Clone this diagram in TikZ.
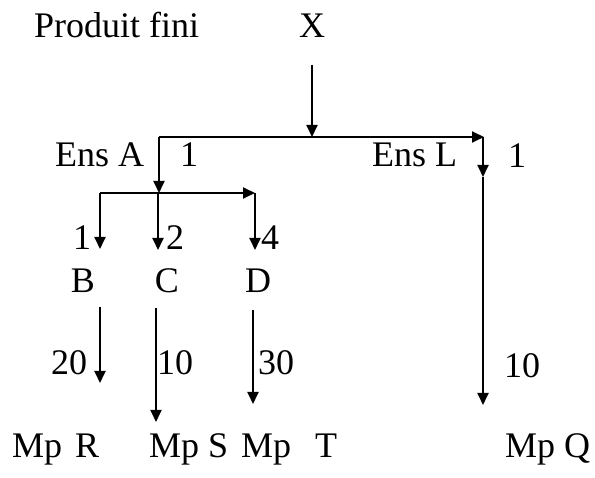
\documentclass[tikz,border=0pt]{standalone}
\usepackage{fontspec}
\setmainfont{Liberation Serif}
\usetikzlibrary{arrows.meta}
\begin{document}
\begin{tikzpicture}[x=1pt,y=-1pt,
  txt/.style={inner sep=0pt,font=\fontsize{36}{40}\selectfont},
  lbl/.style={txt,anchor=base west},
  num/.style={txt,anchor=base},
  flow/.style={line width=1.8pt,-{Triangle[length=12pt,width=11pt]}}]
\useasboundingbox (0,0) rectangle (595,478);
% texts
\node[lbl] (prod) at (34,38) {Produit fini};
\node[num] (X) at (312,38) {X};
\node[lbl] (ensA) at (55,167) {Ens A};
\node[num] (qA) at (189,167) {1};
\node[lbl] (ensL) at (372,167) {Ens L};
\node[num] (qL) at (517,168) {1};
\node[num] (qB) at (82,250) {1};
\node[num] (qC) at (175,250) {2};
\node[num] (qD) at (270,250) {4};
\node[num] (B) at (83,293) {B};
\node[num] (C) at (167,293) {C};
\node[num] (D) at (258,293) {D};
\node[num] (qR) at (69,375) {20};
\node[num] (qS) at (175,375) {10};
\node[num] (qT) at (276,375) {30};
\node[num] (qQ) at (522,378) {10};
\node[lbl] (mpR) at (12,458) {Mp\hspace{13pt}R};
\node[lbl] (mpS) at (149,458) {Mp S};
\node[lbl] (mpT) at (241,458) {Mp\hspace{24pt}T};
\node[lbl] (mpQ) at (505,457) {Mp Q};
% junction coordinates
\coordinate (xs) at (312,65);
\coordinate (xe) at (312,137);
\coordinate (jA) at (159,137);
\coordinate (jL) at (484,137);
\coordinate (lt) at (483,137);
\coordinate (lm) at (483,177);
\coordinate (le) at (483,405);
\coordinate (jA2) at (159,193);
\coordinate (hB) at (100,193);
\coordinate (hC) at (158,193);
\coordinate (hD) at (255,193);
\coordinate (eB) at (100,249);
\coordinate (eC) at (158,250);
\coordinate (eD) at (255,250);
\coordinate (bs) at (100,307);
\coordinate (be) at (100,383);
\coordinate (cs) at (156,308);
\coordinate (ce) at (156,422);
\coordinate (ds) at (253,310);
\coordinate (de) at (253,404);
% connectors
\draw[flow] (xs) -- (xe);
\draw[flow] (jA) -- (jL);
\draw[flow] (lt) -- (lm);
\draw[flow] (lm) -- (le);
\draw[flow] (jA) -- (jA2);
\draw[flow] (hB) -- (hD);
\draw[flow] (hB) -- (eB);
\draw[flow] (hC) -- (eC);
\draw[flow] (hD) -- (eD);
\draw[flow] (bs) -- (be);
\draw[flow] (cs) -- (ce);
\draw[flow] (ds) -- (de);
\end{tikzpicture}
\end{document}
